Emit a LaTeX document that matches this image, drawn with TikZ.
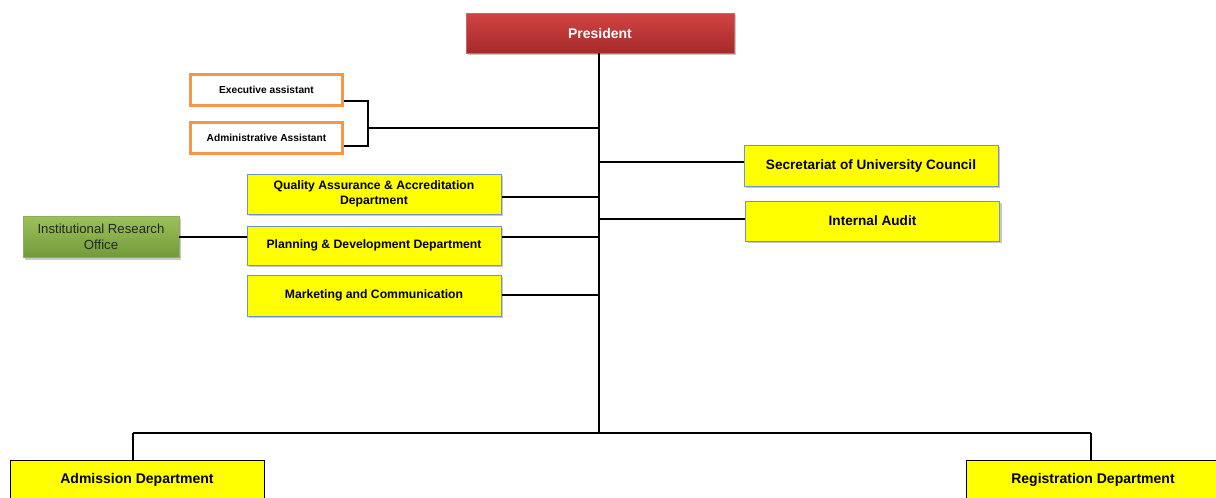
\documentclass[tikz,border=0pt]{standalone}
\usepackage{fontspec}
\setmainfont{Liberation Sans}
\usetikzlibrary{shadows,calc}
\definecolor{boxblue}{HTML}{6F95C8}
\definecolor{orgline}{HTML}{F79646}
\definecolor{redtop}{HTML}{D24343}
\definecolor{redbot}{HTML}{A52A2A}
\definecolor{greentop}{HTML}{9DC25A}
\definecolor{greenbot}{HTML}{72993A}
\definecolor{unityellow}{HTML}{FFFF00}
\begin{document}
\begin{tikzpicture}[x=1pt,y=-1pt,
  boxshadow/.style={drop shadow={opacity=0.3,shadow xshift=2pt,shadow yshift=-2pt,fill=black!70}},
  unitbox/.style={draw=boxblue,line width=1pt,fill=unityellow,boxshadow,
    font=\bfseries\fontsize{12.2}{15}\selectfont,align=center,inner sep=0pt,
    minimum width=254,minimum height=40},
  basebox/.style={draw=black,line width=1pt,fill=unityellow,
    font=\bfseries\fontsize{14}{16}\selectfont,align=center,inner sep=0pt,
    minimum width=254,minimum height=40},
  assistbox/.style={draw=orgline,line width=3.2pt,fill=white,
    font=\bfseries\fontsize{10.2}{12}\selectfont,align=center,inner sep=0pt,
    minimum width=152,minimum height=31},
  headbox/.style={top color=redtop,bottom color=redbot,draw=redbot!70,line width=0.6pt,
    boxshadow,text=white,font=\bfseries\fontsize{14}{16}\selectfont,inner sep=0pt,
    minimum width=268,minimum height=40},
  officebox/.style={top color=greentop,bottom color=greenbot,draw=greenbot!80,line width=0.5pt,
    boxshadow,text=black!85,font=\fontsize{13.2}{16}\selectfont,align=center,inner sep=0pt,
    minimum width=156,minimum height=41},
  link/.style={draw=black,line width=1.5pt}]
\useasboundingbox (0,0) rectangle (1216,498);
\clip (0,0) rectangle (1216,498);

% top of the chart
\node[headbox] (pres) at (600,33) {President};

% assistants bracket
\node[assistbox] (exec) at (266.5,90) {Executive assistant};
\node[assistbox] (admin) at (266.5,138) {Administrative Assistant};

% staff units to the right
\node[unitbox,font=\bfseries\fontsize{13.6}{15}\selectfont,minimum height=41] (sec) at (871,165.5) {Secretariat of University Council};
\node[unitbox,font=\bfseries\fontsize{13.6}{15}\selectfont] (audit) at (872.5,221) {Internal Audit};

% staff units to the left
\node[unitbox] (qa) at (374,194) {Quality Assurance \& Accreditation\\Department};
\node[unitbox,minimum height=39] (plan) at (374,245.5) {Planning \& Development Department};
\node[unitbox,minimum height=41] (mkt) at (374,295.5) {Marketing and Communication};
\node[officebox] (iro) at (101,237) {Institutional Research\\Office};

% line departments at the bottom
\node[basebox] (adm) at (137,480) {Admission Department};
\node[basebox] (reg) at (1093,480) {Registration Department};

% connectors
\coordinate (spine) at (599,433);
\coordinate (brk) at (368,128);
\coordinate (leftdrop) at (133,433);
\coordinate (rightdrop) at (1091,433);

\draw[link] (pres.south -| spine) -- (spine);
\draw[link] ([yshift=-11pt]exec.east) -| (brk) |- ([yshift=-8pt]admin.east);
\draw[link] (brk) -- (brk -| spine);
\draw[link] ([yshift=3.5pt]sec.west) -- ([yshift=3.5pt]sec.west -| spine);
\draw[link] ([yshift=2pt]audit.west) -- ([yshift=2pt]audit.west -| spine);
\draw[link] ([yshift=-3pt]qa.east) -- ([yshift=-3pt]qa.east -| spine);
\draw[link] (iro.east) -- (iro.east -| plan.west);
\draw[link] (iro.east -| plan.east) -- (iro.east -| spine);
\draw[link] ([yshift=0.5pt]mkt.east) -- ([yshift=0.5pt]mkt.east -| spine);
\draw[link] (leftdrop) -- (rightdrop);
\draw[link] (leftdrop) -- (leftdrop |- adm.north);
\draw[link] (rightdrop) -- (rightdrop |- reg.north);
\end{tikzpicture}
\end{document}
